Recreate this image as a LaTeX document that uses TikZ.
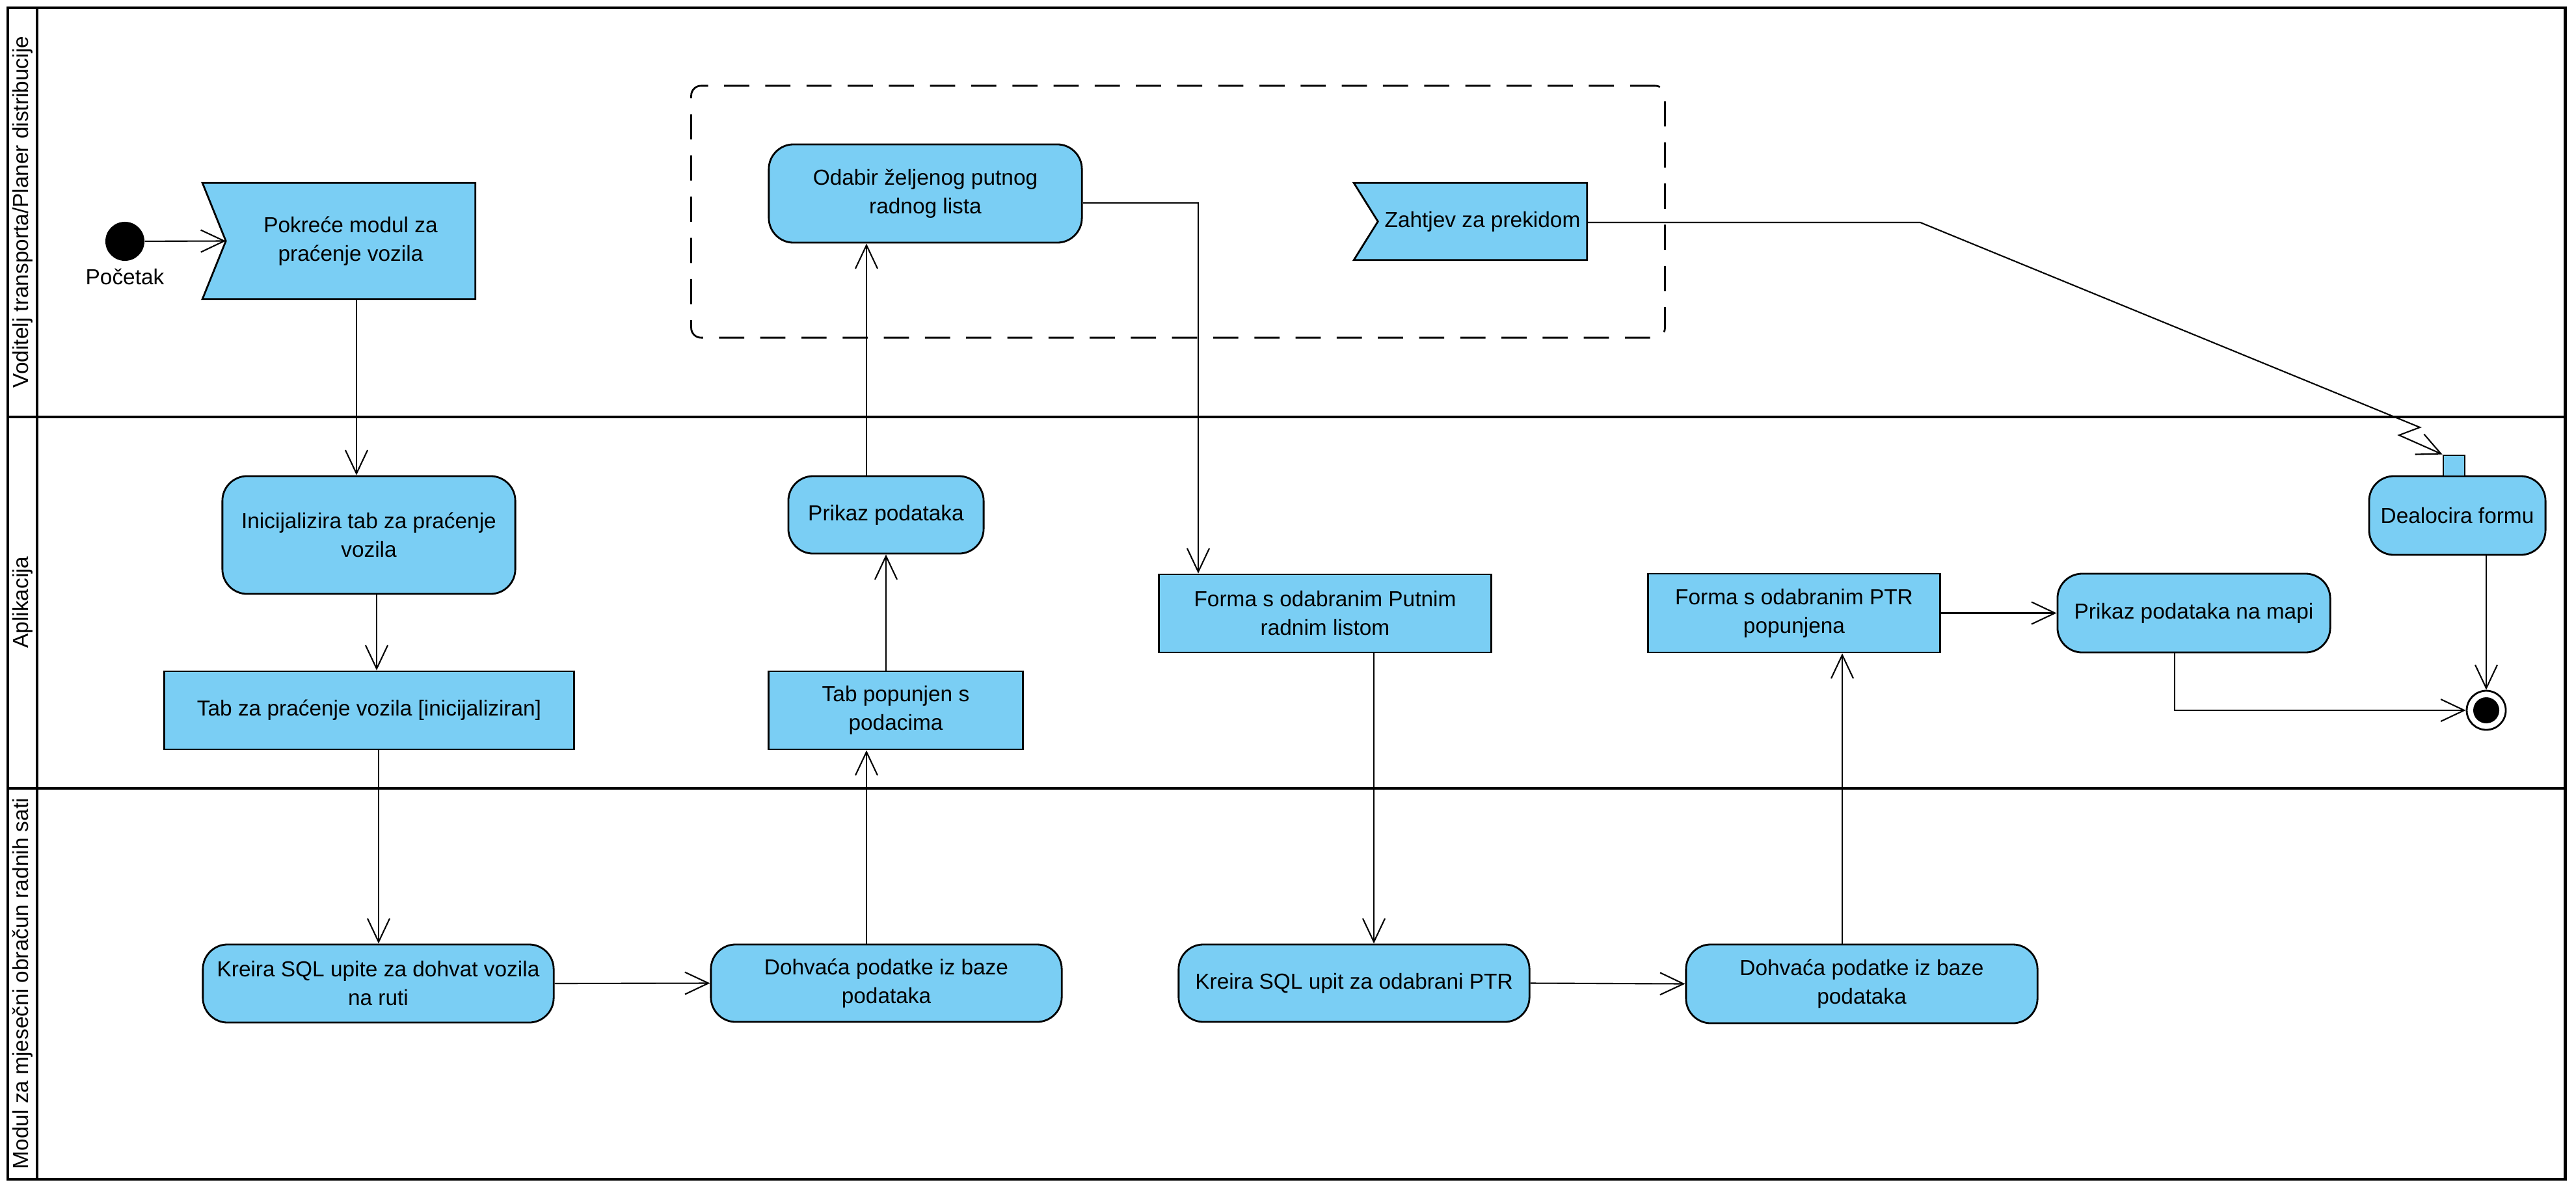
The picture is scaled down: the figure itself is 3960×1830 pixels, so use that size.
\documentclass[tikz,border=0pt]{standalone}
\usepackage{fontspec}
\setmainfont{Liberation Sans}
\usetikzlibrary{arrows.meta,calc,backgrounds}
\definecolor{actfill}{RGB}{122,206,244}
\begin{document}
\begin{tikzpicture}[x=0.01cm, y=-0.01cm,
  every node/.style={font=\fontsize{9.5}{12.5}\selectfont, inner sep=0pt, align=center},
  lane/.style={line width=1.4pt},
  lanelbl/.style={rotate=90},
  act/.style={rectangle, draw, line width=0.8pt, fill=actfill, rounded corners=0.38cm},
  obj/.style={rectangle, draw, line width=0.8pt, fill=actfill},
  evtshape/.style={draw, line width=0.8pt, fill=actfill, line join=miter},
  region/.style={rectangle, draw, dash pattern=on 11pt off 7pt, line width=0.8pt, rounded corners=0.15cm},
  flowarr/.style={line width=0.6pt, -{Straight Barb[length=0.36cm, width=0.34cm]}}
]
\useasboundingbox (0,0) rectangle (3960,1830);

% swimlanes
\draw[lane] (12,12) rectangle (3943,1813);
\draw[lane] (57,12) -- (57,1813);
\draw[lane] (12,641) -- (3943,641);
\draw[lane] (12,1212) -- (3943,1212);
\node[lanelbl] (lane1) at (35,326) {Voditelj transporta/Planer distribucije};
\node[lanelbl] (lane2) at (35,926) {Aplikacija};
\node[lanelbl] (lane3) at (35,1512) {Modul za mjesečni obračun radnih sati};

% interruptible region
\node[region, minimum width=14.96cm, minimum height=3.87cm] (reg) at (1811,325.5) {};

% initial node
\node[circle, fill=black, minimum size=0.6cm] (start) at (192,371) {};
\node[anchor=base] (startlbl) at (192,437) {Početak};

% accept event actions
\node[minimum width=3.82cm, minimum height=1.77cm] (pok) at (539,370.5) {Pokreće modul za\\praćenje vozila};
\node[minimum width=3.20cm, minimum height=1.17cm] (zah) at (2279,340.5) {Zahtjev za prekidom};
\begin{scope}[on background layer]
\fill[white] (0,0) rectangle (3960,1830);
\draw[evtshape] ($(pok.north west)+(-36,0)$) -- (pok.north east) -- (pok.south east) -- ($(pok.south west)+(-36,0)$) -- (pok.west) -- cycle;
\draw[evtshape] ($(zah.north west)+(-37,0)$) -- (zah.north east) -- (zah.south east) -- ($(zah.south west)+(-37,0)$) -- (zah.west) -- cycle;
\end{scope}

% actions and objects
\node[act, minimum width=4.81cm, minimum height=1.51cm] (odabir) at (1422.5,297.5) {Odabir željenog putnog\\radnog lista};
\node[act, minimum width=4.50cm, minimum height=1.81cm] (inic) at (567,822.5) {Inicijalizira tab za praćenje\\vozila};
\node[obj, minimum width=6.29cm, minimum height=1.20cm] (tab1) at (567.5,1092) {Tab za praćenje vozila [inicijaliziran]};
\node[act, minimum width=3.00cm, minimum height=1.19cm] (prikaz) at (1362,791.5) {Prikaz podataka};
\node[obj, minimum width=3.90cm, minimum height=1.20cm] (tabpop) at (1377,1092) {Tab popunjen s\\podacima};
\node[obj, minimum width=5.10cm, minimum height=1.20cm] (formaput) at (2037,943) {Forma s odabranim Putnim\\radnim listom};
\node[obj, minimum width=4.48cm, minimum height=1.21cm] (formaptr) at (2758,942.5) {Forma s odabranim PTR\\popunjena};
\node[act, minimum width=4.19cm, minimum height=1.21cm] (mapa) at (3372.5,942.5) {Prikaz podataka na mapi};
\node[act, minimum width=2.71cm, minimum height=1.21cm] (dealoc) at (3777.5,792.5) {Dealocira formu};
\node[obj, minimum width=0.33cm, minimum height=0.32cm] (pin) at (3772.5,716) {};
\node[act, minimum width=5.39cm, minimum height=1.20cm] (kreira1) at (581.5,1512) {Kreira SQL upite za dohvat vozila\\na ruti};
\node[act, minimum width=5.39cm, minimum height=1.19cm] (dohv1) at (1362.5,1511.5) {Dohvaća podatke iz baze\\podataka};
\node[act, minimum width=5.39cm, minimum height=1.19cm] (kreira2) at (2081.5,1511.5) {Kreira SQL upit za odabrani PTR};
\node[act, minimum width=5.40cm, minimum height=1.21cm] (dohv2) at (2862,1512.5) {Dohvaća podatke iz baze\\podataka};

% final node
\node[circle, draw, line width=0.8pt, fill=white, minimum size=0.6cm] (end) at (3822,1092) {};
\node[circle, fill=black, minimum size=0.4cm] (endin) at (end.center) {};

% interrupt bend points
\coordinate (ib1) at (2952,342);
\coordinate (ib2) at (3720,657);
\coordinate (ib3) at (3688,669);

% control flows
\draw[flowarr] (start) -- (pok.west);
\draw[flowarr] ($(pok.south)+(9,0)$) -- ($(inic.north)+(-19,0)$);
\draw[flowarr] ($(inic.south)+(12,0)$) -- ($(tab1.north)+(11.5,0)$);
\draw[flowarr] ($(tab1.south)+(14.5,0)$) -- ($(kreira1.north)+(0.5,0)$);
\draw[flowarr] (kreira1.east) -- (dohv1.west);
\draw[flowarr] ($(dohv1.north)+(-30.5,0)$) -- ($(tabpop.south)+(-45,0)$);
\draw[flowarr] ($(tabpop.north)+(-15,0)$) -- (prikaz.south);
\draw[flowarr] ($(prikaz.north)+(-30,0)$) -- ($(odabir.south)+(-90.5,0)$);
\draw[flowarr] ($(odabir.east)+(0,14.5)$) -| ($(formaput.north)+(-195,0)$);
\draw[flowarr] ($(formaput.south)+(75,0)$) -- ($(kreira2.north)+(30.5,0)$);
\draw[flowarr] (kreira2.east) -- (dohv2.west);
\draw[flowarr] ($(dohv2.north)+(-30,0)$) -- ($(formaptr.south)+(74,0)$);
\draw[flowarr] (formaptr.east) -- (mapa.west);
\draw[flowarr] ($(mapa.south)+(-29.5,0)$) |- (end.west);
\draw[flowarr] ($(dealoc.south)+(44.5,0)$) -- (end.north);
\draw[flowarr] ($(zah.east)+(0,1.5)$) -- (ib1) -- (ib2) -- (ib3) -- (pin.north west);
\end{tikzpicture}
\end{document}
